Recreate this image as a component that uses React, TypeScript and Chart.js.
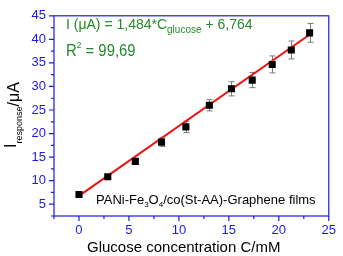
import React, { useEffect, useRef } from 'react';
import { Chart, registerables } from 'chart.js';

Chart.register(...registerables);

// ---- data ----
const concentration = [0, 2.88, 5.64, 8.26, 10.7, 13.05, 15.26, 17.34, 19.34, 21.25, 23.08];
const response = [7.05, 10.83, 14.09, 18.18, 21.42, 26.02, 29.5, 31.35, 34.68, 37.75, 41.38];
const responseErr = [0.3, 0.4, 0.5, 0.9, 1.2, 1.2, 1.5, 1.6, 1.8, 1.9, 2.0];
const fitX = [0, 23.1];
const fitY = [6.764, 41.04];
const xMajorTicks = [0, 5, 10, 15, 20, 25];
const xMinorTicks = [-2.5, 2.5, 7.5, 12.5, 17.5, 22.5];
const yMajorTicks = [5, 10, 15, 20, 25, 30, 35, 40, 45];
const yMinorTicks = [2.5, 7.5, 12.5, 17.5, 22.5, 27.5, 32.5, 37.5, 42.5];

const FONT = '"Liberation Sans", Arial, Helvetica, sans-serif';
const BLUE = '#1a1ae6';
const GREEN = '#24892a';

type Run = [string, number, number]; // text, size, dy

function drawRuns(ctx: CanvasRenderingContext2D, x: number, y: number, runs: Run[], color: string, center = false, sx = 1) {
  ctx.save();
  ctx.fillStyle = color;
  ctx.textBaseline = 'alphabetic';
  ctx.textAlign = 'left';
  let total = 0;
  for (const [t, s] of runs) {
    ctx.font = `${s}px ${FONT}`;
    total += ctx.measureText(t).width;
  }
  ctx.translate(x, y);
  ctx.scale(sx, 1);
  let cx = center ? -total / 2 : 0;
  for (const [t, s, dy] of runs) {
    ctx.font = `${s}px ${FONT}`;
    ctx.fillText(t, cx, dy);
    cx += ctx.measureText(t).width;
  }
  ctx.restore();
}

const decor = {
  id: 'decor',
  beforeDatasetsDraw(chart: any) {
    const { ctx, scales } = chart;
    const x = scales.x, y = scales.y;
    ctx.save();
    ctx.strokeStyle = '#7a7a7a';
    ctx.lineWidth = 1;
    concentration.forEach((c, i) => {
      const px = Math.round(x.getPixelForValue(c)) + 0.5;
      const top = y.getPixelForValue(response[i] + responseErr[i]);
      const bot = y.getPixelForValue(response[i] - responseErr[i]);
      ctx.beginPath();
      ctx.moveTo(px, top); ctx.lineTo(px, bot);
      ctx.moveTo(px - 3, top); ctx.lineTo(px + 3, top);
      ctx.moveTo(px - 3, bot); ctx.lineTo(px + 3, bot);
      ctx.stroke();
    });
    ctx.restore();
  },
  afterDraw(chart: any) {
    const { ctx, chartArea, scales } = chart;
    const x = scales.x, y = scales.y;
    const { left, right, top, bottom } = chartArea;
    ctx.save();
    // frame
    ctx.strokeStyle = BLUE;
    ctx.lineWidth = 1.2;
    ctx.strokeRect(left, top, right - left, bottom - top);
    // ticks
    ctx.beginPath();
    yMajorTicks.forEach(v => { const p = y.getPixelForValue(v); ctx.moveTo(left - 5, p); ctx.lineTo(left, p); });
    yMinorTicks.forEach(v => { const p = y.getPixelForValue(v); ctx.moveTo(left - 3, p); ctx.lineTo(left, p); });
    xMajorTicks.forEach(v => { const p = x.getPixelForValue(v); ctx.moveTo(p, bottom); ctx.lineTo(p, bottom + 5); });
    xMinorTicks.forEach(v => { const p = x.getPixelForValue(v); ctx.moveTo(p, bottom); ctx.lineTo(p, bottom + 3); });
    ctx.stroke();

    // x title
    drawRuns(ctx, 87, 252, [['Glucose concentration C/mM', 15, 0]], '#000');

    // y title (rotated)
    ctx.save();
    ctx.translate(16, 115);
    ctx.rotate(-Math.PI / 2);
    drawRuns(ctx, 0, 0, [['I', 16, 0], ['response', 9, 6], ['/\u03BCA', 16, 3]], '#000', true);
    ctx.restore();

    // annotations
    drawRuns(ctx, 66, 29, [['I (\u03BCA) = 1,484*C', 14, 0], ['glucose', 10, 4], [' + 6,764', 14, 0]], GREEN);
    drawRuns(ctx, 66, 56, [['R', 16, 0], ['2', 9, -8], [' = 99,69', 16, 0]], GREEN, false, 0.93);
    drawRuns(ctx, 96, 204, [['PANi-Fe', 13, 0], ['3', 8, 3], ['O', 13, 0], ['4', 8, 3], ['/co(St-AA)-Graphene films', 13, 0]], '#000');
    ctx.restore();
  },
};

export default function App() {
  const ref = useRef<HTMLCanvasElement>(null);
  useEffect(() => {
    document.body.style.margin = '0';
    const canvas = ref.current!;
    const chart = new Chart(canvas, {
      type: 'scatter',
      data: {
        datasets: [
          {
            type: 'scatter',
            data: concentration.map((c, i) => ({ x: c, y: response[i] })),
            pointStyle: 'rect',
            pointRadius: 5,
            backgroundColor: '#000',
            borderColor: '#000',
            borderWidth: 0,
            order: 0,
          } as any,
          {
            type: 'line',
            data: fitX.map((v, i) => ({ x: v, y: fitY[i] })),
            borderColor: '#ee1111',
            borderWidth: 2,
            pointRadius: 0,
            showLine: true,
            fill: false,
            order: 1,
          } as any,
        ],
      },
      options: {
        animation: false,
        responsive: false,
        devicePixelRatio: 1,
        layout: { padding: { top: 7, right: 7, left: 0, bottom: 0 } },
        plugins: { legend: { display: false }, tooltip: { enabled: false } },
        scales: {
          x: {
            type: 'linear',
            min: -2.5,
            max: 25,
            afterBuildTicks: (a: any) => { a.ticks = xMajorTicks.map(v => ({ value: v })); },
            afterFit: (s: any) => { s.height = 40; },
            grid: { display: false, drawTicks: false },
            border: { display: false },
            ticks: { color: BLUE, font: { family: FONT, size: 13 }, padding: 7, maxRotation: 0, autoSkip: false },
          },
          y: {
            type: 'linear',
            min: 2.5,
            max: 45,
            afterBuildTicks: (a: any) => { a.ticks = yMajorTicks.map(v => ({ value: v })); },
            afterFit: (s: any) => { s.width = 54; },
            grid: { display: false, drawTicks: false },
            border: { display: false },
            ticks: { color: BLUE, font: { family: FONT, size: 13 }, padding: 8, autoSkip: false },
          },
        },
      },
      plugins: [decor],
    });
    return () => chart.destroy();
  }, []);
  return (
    <div style={{ position: 'absolute', left: 0, top: 0, width: 343, height: 256 }}>
      <canvas ref={ref} width={343} height={256} style={{ width: 343, height: 256 }} />
    </div>
  );
}
